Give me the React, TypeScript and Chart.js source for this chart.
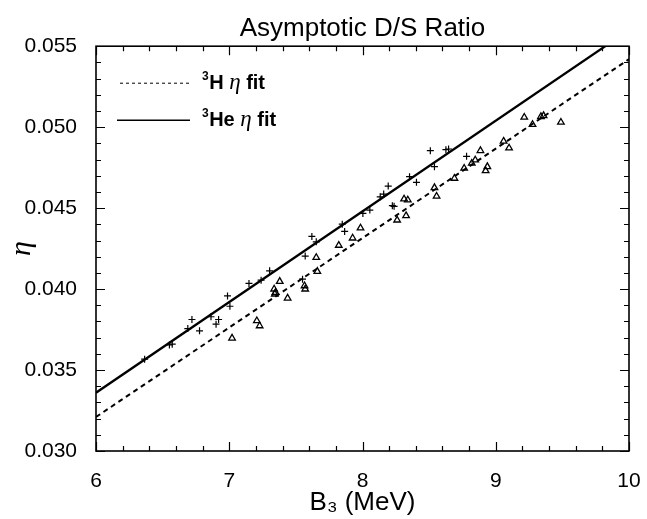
import React, { useEffect, useRef } from "react";
import { Chart, registerables } from "chart.js";

Chart.register(...registerables);

const chartTitle = "Asymptotic D/S Ratio";
const xAxisTitle = "B₃ (MeV)";
const yAxisTitle = "η";
const xMin = 6;
const xMax = 10;
const yMin = 0.03;
const yMax = 0.055;

// fit lines (end points)
const fitB = [6, 10];
const hFitEta = [0.0321, 0.0542];
const heFitEta = [0.0336, 0.056];

// 3He calculations (plus markers)
const heB = [6.365, 6.551, 6.572, 6.689, 6.72, 6.777, 6.863, 6.901, 6.92, 6.987, 7.005, 7.148, 7.239, 7.303, 7.55, 7.57, 7.62, 7.653, 7.848, 7.866, 8.003, 8.055, 8.133, 8.159, 8.193, 8.224, 8.237, 8.353, 8.405, 8.509, 8.54, 8.626, 8.646, 8.781];
const heEta = [0.03567, 0.03655, 0.0366, 0.03756, 0.03812, 0.03742, 0.03829, 0.03783, 0.03812, 0.03958, 0.03894, 0.04035, 0.04055, 0.04113, 0.04061, 0.04204, 0.04325, 0.04292, 0.04401, 0.04356, 0.04467, 0.04488, 0.0457, 0.04587, 0.04636, 0.04515, 0.04511, 0.04694, 0.04659, 0.04855, 0.04756, 0.04861, 0.04865, 0.0482];

// 3H calculations (triangle markers)
const hB = [7.021, 7.207, 7.228, 7.337, 7.342, 7.347, 7.379, 7.438, 7.565, 7.57, 7.653, 7.661, 7.822, 7.926, 7.985, 8.26, 8.312, 8.34, 8.327, 8.54, 8.556, 8.69, 8.763, 8.82, 8.846, 8.885, 8.924, 8.937, 9.059, 9.1, 9.214, 9.276, 9.339, 9.359, 9.489];
const hEta = [0.03697, 0.03804, 0.03773, 0.04, 0.03969, 0.03979, 0.04047, 0.03944, 0.0402, 0.04, 0.04195, 0.04109, 0.0427, 0.04315, 0.04377, 0.04426, 0.04556, 0.0455, 0.04453, 0.04626, 0.04573, 0.04684, 0.04746, 0.04777, 0.04797, 0.04855, 0.04731, 0.04756, 0.04913, 0.04871, 0.05061, 0.05016, 0.05065, 0.05071, 0.0503];

const legendLabels = ["³H η fit", "³He η fit"];

const INK = "#000";
const SANS = "'Liberation Sans', Arial, Helvetica, sans-serif";
const SERIF = "'Liberation Serif', 'DejaVu Serif', serif";

const pts = (xs: number[], ys: number[]) => xs.map((x, i) => ({ x, y: ys[i] }));

const frameTicks = {
  id: "frameTicks",
  afterDatasetsDraw(chart: any) {
    const { ctx, chartArea: a, scales } = chart;
    const x = scales.x;
    const y = scales.y;
    ctx.save();
    ctx.strokeStyle = INK;
    ctx.lineWidth = 1.2;
    ctx.beginPath();
    const nx = Math.round((xMax - xMin) / 0.2);
    for (let i = 0; i <= nx; i++) {
      const px = Math.round(x.getPixelForValue(xMin + i * 0.2)) + 0.5;
      const len = i % 5 === 0 ? 9 : 5;
      ctx.moveTo(px, a.bottom);
      ctx.lineTo(px, a.bottom - len);
      ctx.moveTo(px, a.top);
      ctx.lineTo(px, a.top + len);
    }
    const ny = Math.round((yMax - yMin) / 0.001);
    for (let i = 0; i <= ny; i++) {
      const py = Math.round(y.getPixelForValue(yMin + i * 0.001)) + 0.5;
      const len = i % 5 === 0 ? 9 : 5;
      ctx.moveTo(a.left, py);
      ctx.lineTo(a.left + len, py);
      ctx.moveTo(a.right, py);
      ctx.lineTo(a.right - len, py);
    }
    ctx.stroke();
    ctx.lineWidth = 1.6;
    ctx.strokeRect(a.left, a.top, a.right - a.left, a.bottom - a.top);
    ctx.restore();
  },
};

const fitLegend = {
  id: "fitLegend",
  afterDraw(chart: any) {
    const { ctx, chartArea: a } = chart;
    const rows = [
      { label: legendLabels[0], dash: [3, 3], width: 1, lineY: a.top + 37, x0: a.left + 24, base: a.top + 43 },
      { label: legendLabels[1], dash: [], width: 1.4, lineY: a.top + 74, x0: a.left + 21, base: a.top + 80 },
    ];
    ctx.save();
    ctx.fillStyle = INK;
    ctx.strokeStyle = INK;
    rows.forEach((r) => {
      ctx.beginPath();
      ctx.setLineDash(r.dash);
      ctx.lineWidth = r.width;
      ctx.moveTo(r.x0, r.lineY);
      ctx.lineTo(a.left + 94, r.lineY);
      ctx.stroke();
      ctx.setLineDash([]);
      let tx = a.left + 106;
      ctx.textBaseline = "alphabetic";
      ctx.textAlign = "left";
      ctx.font = `bold 12px ${SANS}`;
      ctx.fillText("3", tx, r.base - 9);
      tx += ctx.measureText("3").width + 0.5;
      const rest = r.label.slice(1);
      const parts = rest.split("η");
      ctx.font = `bold 20px ${SANS}`;
      ctx.fillText(parts[0], tx, r.base);
      tx += ctx.measureText(parts[0]).width;
      ctx.font = `italic 23px ${SERIF}`;
      ctx.fillText("η", tx, r.base);
      tx += ctx.measureText("η").width;
      ctx.font = `bold 20px ${SANS}`;
      ctx.fillText(parts[1], tx, r.base);
    });
    ctx.restore();
  },
};

export default function App() {
  const ref = useRef<HTMLCanvasElement | null>(null);
  useEffect(() => {
    if (!ref.current) return;
    Chart.defaults.font.family = SANS;
    Chart.defaults.color = INK;
    const chart = new Chart(ref.current, {
      type: "scatter",
      data: {
        datasets: [
          {
            label: legendLabels[0],
            data: pts(fitB, hFitEta),
            showLine: true,
            borderColor: INK,
            borderWidth: 2,
            borderDash: [5, 4],
            pointRadius: 0,
            clip: 0,
          },
          {
            label: legendLabels[1],
            data: pts(fitB, heFitEta),
            showLine: true,
            borderColor: INK,
            borderWidth: 2.3,
            pointRadius: 0,
            clip: 0,
          },
          {
            label: "³He",
            data: pts(heB, heEta),
            pointStyle: "cross",
            pointRadius: 3.5,
            borderColor: INK,
            borderWidth: 1.2,
            backgroundColor: INK,
          },
          {
            label: "³H",
            data: pts(hB, hEta),
            pointStyle: "triangle",
            pointRadius: 3.8,
            borderColor: INK,
            borderWidth: 1.3,
            backgroundColor: "rgba(0,0,0,0)",
          },
        ],
      } as any,
      plugins: [frameTicks, fitLegend],
      options: {
        animation: false,
        responsive: false,
        layout: { padding: { left: 0, right: 18, top: 0, bottom: 0 } },
        plugins: {
          legend: { display: false },
          tooltip: { enabled: false },
          title: {
            display: true,
            text: chartTitle,
            fullSize: false,
            color: INK,
            font: { size: 26, weight: "normal" },
            padding: { top: 13, bottom: 2 },
          },
        },
        scales: {
          x: {
            type: "linear",
            min: xMin,
            max: xMax,
            grid: { display: false, drawTicks: false },
            border: { display: false },
            ticks: { stepSize: 1, font: { size: 21 }, padding: 18, color: INK },
            title: {
              display: true,
              text: xAxisTitle,
              color: INK,
              font: { size: 26 },
              padding: { top: 0, bottom: 1 },
            },
            afterFit(scale: any) {
              scale.height = 68;
              scale.paddingLeft = 0;
              scale.paddingRight = 0;
            },
          },
          y: {
            type: "linear",
            min: yMin,
            max: yMax,
            grid: { display: false, drawTicks: false },
            border: { display: false },
            ticks: {
              stepSize: 0.005,
              font: { size: 21 },
              padding: 19,
              color: INK,
              callback: (v: any) => Number(v).toFixed(3),
            },
            title: {
              display: true,
              text: yAxisTitle,
              color: INK,
              font: { size: 30, style: "italic", family: SERIF },
              padding: { top: 4, bottom: 0 },
            },
            afterFit(scale: any) {
              scale.width = 96;
              scale.paddingTop = 0;
              scale.paddingBottom = 0;
            },
          },
        },
      } as any,
    });
    return () => chart.destroy();
  }, []);
  return (
    <div style={{ position: "absolute", left: 0, top: 0, width: 647, height: 519, background: "#fff" }}>
      <canvas ref={ref} width={647} height={519} style={{ display: "block" }} />
    </div>
  );
}
